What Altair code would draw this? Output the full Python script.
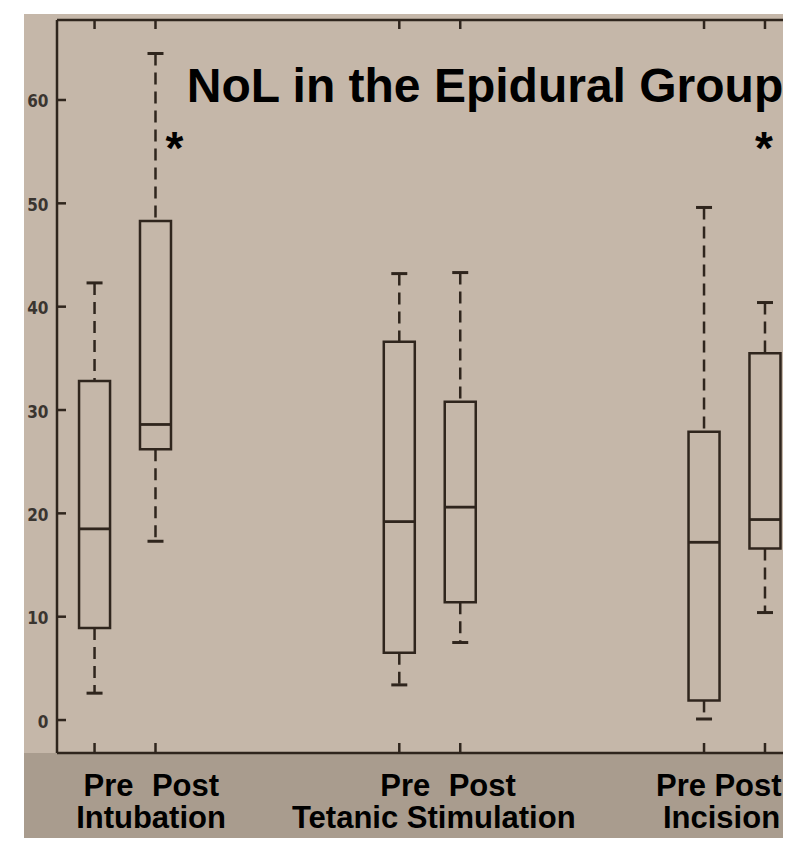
import altair as alt
import pandas as pd

# ---- data ----
stages = ["Intubation", "Tetanic Stimulation", "Incision"]
phases = ["Pre", "Post"]
whisker_low = [2.6, 17.3, 3.4, 7.5, 0.1, 10.4]
q1 = [8.9, 26.2, 6.5, 11.4, 1.9, 16.6]
median = [18.5, 28.6, 19.2, 20.6, 17.2, 19.4]
q3 = [32.8, 48.3, 36.6, 30.8, 27.9, 35.5]
whisker_high = [42.3, 64.5, 43.2, 43.3, 49.6, 40.4]
significant = [True, False, True]
star_level = 56.0
y_ticks = [0, 10, 20, 30, 40, 50, 60]
title_text = "NoL in the Epidural Group"

# ---- table ----
rows = []
k = 0
for si, s in enumerate(stages):
    for pi, p in enumerate(phases):
        rows.append(dict(stage=s, phase=p, pos=si * 5 + pi + 1,
                         low=whisker_low[k], q1=q1[k], med=median[k],
                         q3=q3[k], high=whisker_high[k]))
        k += 1
df = pd.DataFrame(rows)
centers = pd.DataFrame([dict(stage=s, pos=si * 5 + 1.5, sig=significant[si],
                             star=star_level, post=si * 5 + 2)
                        for si, s in enumerate(stages)])
ticks_df = pd.DataFrame({"v": y_ticks})

# ---- styling ----
W, H = 726, 733
BG = "#c5b7a9"
BAND = "#a99c8e"
INK = "#2f251d"
FONT = "Liberation Sans"
LW = 2.5

xscale = alt.Scale(domain=[0.466, 0.466 + W / 61.8], nice=False, zero=False)
yscale = alt.Scale(domain=[-3.19, 67.74], nice=False, zero=False)
yaxis = alt.Axis(values=y_ticks, ticks=False, domain=False, grid=False,
                 labelPadding=9, labelFont="DejaVu Sans Condensed",
                 labelFontSize=17, labelFontWeight="bold", labelColor="#3a3530",
                 labelBaseline="middle", labelOffset=2,
                 title=None, zindex=2)


def X(f):
    return alt.X(f, type="quantitative", scale=xscale, axis=None)


def Y(f):
    return alt.Y(f, type="quantitative", scale=yscale, axis=yaxis)


one = alt.Data(values=[{}])
base = alt.Chart(df)

bg = alt.Chart(one).mark_rect(color=BG).encode(
    x=alt.value(-33), x2=alt.value(W), y=alt.value(-6), y2=alt.value(H))
band = alt.Chart(one).mark_rect(color=BAND).encode(
    x=alt.value(-33), x2=alt.value(W), y=alt.value(H), y2=alt.value(H + 100))

frame_left = alt.Chart(one).mark_rule(color=INK, strokeWidth=LW).encode(
    x=alt.value(0), y=alt.value(0), y2=alt.value(H))
frame_top = alt.Chart(one).mark_rule(color=INK, strokeWidth=LW).encode(
    x=alt.value(0), x2=alt.value(W), y=alt.value(0))
frame_bottom = alt.Chart(one).mark_rule(color=INK, strokeWidth=LW).encode(
    x=alt.value(0), x2=alt.value(W), y=alt.value(H))

yticks = alt.Chart(ticks_df).mark_rule(color=INK, strokeWidth=LW).encode(
    y=Y("v"), x=alt.value(0), x2=alt.value(9))
top_ticks = base.mark_rule(color=INK, strokeWidth=LW).encode(
    x=X("pos"), y=alt.value(0), y2=alt.value(9))
bottom_ticks = base.mark_rule(color=INK, strokeWidth=LW).encode(
    x=X("pos"), y=alt.value(H - 10), y2=alt.value(H))

whisk_hi = base.mark_rule(color=INK, strokeWidth=LW, strokeDash=[12, 7]).encode(
    x=X("pos"), y=Y("high"), y2="q3")
whisk_lo = base.mark_rule(color=INK, strokeWidth=LW, strokeDash=[12, 7]).encode(
    x=X("pos"), y=Y("q1"), y2="low")
cap_hi = base.mark_tick(orient="horizontal", size=16, thickness=3, color=INK,
                        opacity=1).encode(x=X("pos"), y=Y("high"))
cap_lo = base.mark_tick(orient="horizontal", size=16, thickness=3, color=INK,
                        opacity=1).encode(x=X("pos"), y=Y("low"))
box = base.mark_bar(size=31, fill=BG, stroke=INK, strokeWidth=LW).encode(
    x=X("pos"), y=Y("q1"), y2="q3")
med = base.mark_tick(orient="horizontal", size=31, thickness=2.8, color=INK,
                     opacity=1).encode(x=X("pos"), y=Y("med"))

title = alt.Chart(one).mark_text(text=title_text, font=FONT, fontWeight="bold",
                                 fontSize=48, color="black", align="center",
                                 baseline="alphabetic").encode(
    x=alt.value(428), y=alt.value(82))

layers = [bg, band, frame_left, frame_top, frame_bottom, yticks, top_ticks,
          bottom_ticks, whisk_hi, whisk_lo, cap_hi, cap_lo, box, med, title]

# significance stars
star_dx = [19, 0, -1]
for si, s in enumerate(stages):
    if significant[si]:
        layers.append(
            alt.Chart(centers).transform_filter(alt.datum.stage == s)
            .mark_text(text="*", font=FONT, fontWeight="bold", fontSize=46,
                       color="black", align="center", baseline="middle",
                       dx=star_dx[si], dy=9)
            .encode(x=X("post"), y=Y("star")))

# x labels
pre_dx = [14, 6, -23]
post_dx = [30, 22, -17]
group_dx = [26, 4, -13]
for si, s in enumerate(stages):
    for pi, p in enumerate(phases):
        dxv = (pre_dx if pi == 0 else post_dx)[si]
        layers.append(
            base.transform_filter((alt.datum.stage == s) & (alt.datum.phase == p))
            .mark_text(font=FONT, fontWeight="bold", fontSize=31, color="black",
                       align="center", baseline="alphabetic", dx=dxv)
            .encode(x=X("pos"), y=alt.value(776), text="phase:N"))
    layers.append(
        alt.Chart(centers).transform_filter(alt.datum.stage == s)
        .mark_text(font=FONT, fontWeight="bold", fontSize=31, color="black",
                   align="center", baseline="alphabetic", dx=group_dx[si])
        .encode(x=X("pos"), y=alt.value(808), text="stage:N"))

chart = alt.layer(*layers).properties(
    width=W, height=H,
    padding={"left": 49, "top": 12, "right": 0, "bottom": 85},
    autosize="none", background="white",
).configure_view(stroke=None)

chart.save("out.html", embed_options={"renderer": "svg", "actions": False})
